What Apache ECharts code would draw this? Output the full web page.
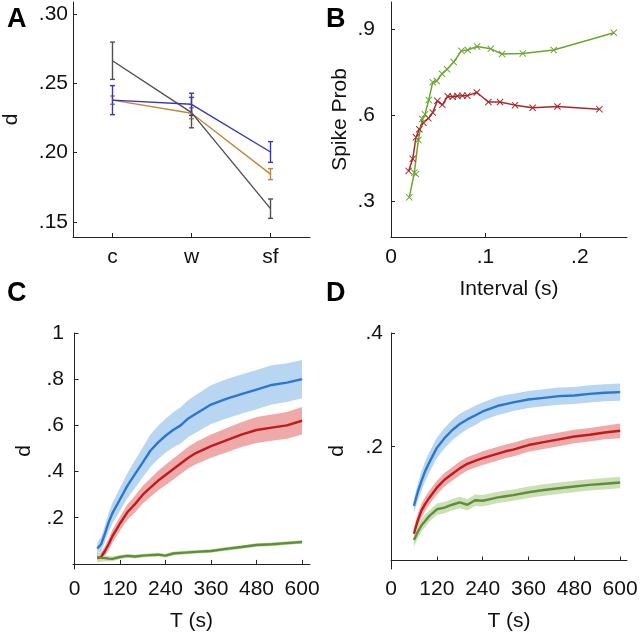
<!DOCTYPE html>
<html>
<head>
<meta charset="utf-8">
<title>Spike probability and d</title>
<script src="https://cdn.jsdelivr.net/npm/echarts@6/dist/echarts.min.js"></script>
<style>
  html, body { margin: 0; padding: 0; background: #fff; }
  #chart { width: 640px; height: 634px; }
</style>
</head>
<body>
<div id="chart"></div>
<script>
// ---- panel A: d per condition (mean +- error)
const catsA = ['c', 'w', 'sf'];
const grayMeanA = [0.2665, 0.229, 0.1595];
const grayErrA = [0.0135, 0.011, 0.007];
const blueMeanA = [0.238, 0.235, 0.2005];
const blueErrA = [0.0105, 0.008, 0.0075];
const orangeMeanA = [0.238, 0.2285, 0.1845];
const orangeErrA = [0.003, 0.004, 0.004];

// ---- panel B: spike probability vs interval
const intervalGreen = [0.0194, 0.0247, 0.0265, 0.029, 0.0332, 0.036, 0.040, 0.0442, 0.0484, 0.054, 0.0594, 0.0664, 0.0746, 0.0813, 0.0912, 0.1057, 0.1177, 0.1396, 0.1724, 0.236];
const probGreen = [0.315, 0.401, 0.396, 0.515, 0.588, 0.604, 0.654, 0.716, 0.72, 0.745, 0.761, 0.786, 0.825, 0.828, 0.84, 0.832, 0.814, 0.816, 0.828, 0.888];
const intervalRed = [0.0187, 0.023, 0.0265, 0.030, 0.0343, 0.0396, 0.0442, 0.0491, 0.0544, 0.0601, 0.0654, 0.0703, 0.0756, 0.0809, 0.0909, 0.1032, 0.1155, 0.1314, 0.150, 0.1763, 0.2208];
const probRed = [0.407, 0.449, 0.524, 0.552, 0.575, 0.590, 0.610, 0.651, 0.637, 0.667, 0.665, 0.668, 0.669, 0.669, 0.680, 0.647, 0.647, 0.636, 0.627, 0.631, 0.622];

// ---- panels C and D: d vs T (mean and band half-width)
const tAxis = [60, 70, 80, 90, 100, 120, 140, 160, 180, 200, 220, 240, 260, 280, 300, 320, 360, 400, 440, 480, 520, 560, 600];

const cBlueMean = [0.067, 0.085, 0.13, 0.18, 0.22, 0.28, 0.34, 0.39, 0.44, 0.49, 0.525, 0.555, 0.58, 0.60, 0.63, 0.65, 0.69, 0.715, 0.735, 0.755, 0.775, 0.785, 0.80];
const cBlueErr = [0.025, 0.03, 0.035, 0.04, 0.045, 0.05, 0.055, 0.06, 0.065, 0.07, 0.072, 0.074, 0.076, 0.078, 0.08, 0.082, 0.084, 0.085, 0.085, 0.085, 0.085, 0.084, 0.083];
const cRedMean = [0.025, 0.03, 0.055, 0.085, 0.12, 0.175, 0.225, 0.26, 0.30, 0.33, 0.36, 0.385, 0.41, 0.435, 0.46, 0.48, 0.51, 0.535, 0.56, 0.58, 0.59, 0.60, 0.62];
const cRedErr = [0.015, 0.02, 0.022, 0.025, 0.028, 0.03, 0.033, 0.036, 0.038, 0.04, 0.042, 0.044, 0.045, 0.046, 0.047, 0.048, 0.05, 0.052, 0.054, 0.056, 0.057, 0.058, 0.06];
const cGreenMean = [0.03, 0.027, 0.025, 0.023, 0.022, 0.03, 0.035, 0.032, 0.036, 0.038, 0.04, 0.036, 0.045, 0.048, 0.05, 0.052, 0.056, 0.065, 0.073, 0.082, 0.085, 0.09, 0.095];
const cGreenErr = [0.02, 0.016, 0.013, 0.011, 0.01, 0.009, 0.008, 0.008, 0.008, 0.008, 0.008, 0.008, 0.008, 0.008, 0.008, 0.008, 0.008, 0.008, 0.008, 0.008, 0.008, 0.008, 0.008];

const dBlueMean = [0.096, 0.12, 0.14, 0.158, 0.172, 0.198, 0.215, 0.229, 0.24, 0.248, 0.255, 0.262, 0.267, 0.272, 0.275, 0.278, 0.283, 0.286, 0.289, 0.29, 0.293, 0.295, 0.296];
const dBlueErr = [0.012, 0.015, 0.017, 0.018, 0.018, 0.018, 0.018, 0.018, 0.018, 0.017, 0.017, 0.016, 0.016, 0.016, 0.016, 0.015, 0.015, 0.015, 0.015, 0.015, 0.015, 0.015, 0.015];
const dRedMean = [0.047, 0.07, 0.088, 0.10, 0.11, 0.128, 0.142, 0.152, 0.162, 0.17, 0.175, 0.18, 0.184, 0.188, 0.192, 0.195, 0.203, 0.208, 0.213, 0.218, 0.221, 0.225, 0.228];
const dRedErr = [0.01, 0.012, 0.012, 0.012, 0.012, 0.012, 0.012, 0.012, 0.012, 0.012, 0.012, 0.012, 0.012, 0.012, 0.012, 0.012, 0.012, 0.012, 0.012, 0.012, 0.012, 0.012, 0.013];
const dGreenMean = [0.036, 0.05, 0.062, 0.07, 0.078, 0.09, 0.093, 0.098, 0.102, 0.098, 0.106, 0.105, 0.108, 0.111, 0.113, 0.115, 0.12, 0.124, 0.127, 0.13, 0.133, 0.135, 0.137];
const dGreenErr = [0.012, 0.012, 0.011, 0.011, 0.01, 0.01, 0.01, 0.01, 0.01, 0.01, 0.01, 0.01, 0.01, 0.01, 0.01, 0.01, 0.01, 0.01, 0.01, 0.01, 0.01, 0.01, 0.01];

// tick labels
const ticksAy = [0.15, 0.20, 0.25, 0.30];
const ticksBx = [0, 0.1, 0.2];
const ticksBy = [0.3, 0.6, 0.9];
const ticksT = [0, 120, 240, 360, 480, 600];
const ticksCy = [0.2, 0.4, 0.6, 0.8, 1];
const ticksDy = [0.2, 0.4];

const FONT = 'Liberation Sans, Arial, sans-serif';
const FS = 21;
const AXIS_COLOR = '#222';

// '.3' style labels, like the original figure
const dotLabel = v => String(Math.round(v * 1000) / 1000).replace(/^0\./, '.');

function axisBase(extra) {
  return Object.assign({
    axisLine: { show: true, lineStyle: { color: AXIS_COLOR, width: 1 } },
    splitLine: { show: false },
    nameTextStyle: { fontFamily: FONT, fontSize: FS, color: '#111' },
    nameLocation: 'middle'
  }, extra);
}

function valueAxis(gridIndex, min, max, ticks, formatter, margin, extra) {
  return axisBase(Object.assign({
    type: 'value',
    gridIndex: gridIndex,
    min: min,
    max: max,
    axisTick: { show: true, inside: true, length: 4, customValues: ticks, lineStyle: { color: AXIS_COLOR } },
    axisLabel: { customValues: ticks, formatter: formatter, fontFamily: FONT, fontSize: FS, color: '#111', margin: margin, showMinLabel: true, showMaxLabel: true }
  }, extra));
}

// error bars with small caps, drawn through the axis scales
function errorBars(color) {
  return function (params, api) {
    const x = api.value(0);
    const lo = api.coord([x, api.value(1)]);
    const hi = api.coord([x, api.value(2)]);
    const cap = 2.5;
    const style = { stroke: color, lineWidth: 1.4 };
    return {
      type: 'group',
      children: [
        { type: 'line', shape: { x1: lo[0], y1: lo[1], x2: hi[0], y2: hi[1] }, style: style },
        { type: 'line', shape: { x1: lo[0] - cap, y1: lo[1], x2: lo[0] + cap, y2: lo[1] }, style: style },
        { type: 'line', shape: { x1: hi[0] - cap, y1: hi[1], x2: hi[0] + cap, y2: hi[1] }, style: style }
      ]
    };
  };
}

function panelALine(mean, err, color) {
  return [
    {
      type: 'line', xAxisIndex: 0, yAxisIndex: 0,
      data: mean, symbol: 'none',
      lineStyle: { color: color, width: 1.4 }
    },
    {
      type: 'custom', xAxisIndex: 0, yAxisIndex: 0,
      renderItem: errorBars(color),
      encode: { x: 0, y: [1, 2] },
      data: mean.map((m, i) => [i, m - err[i], m + err[i]])
    }
  ];
}

const crossSymbol = 'path://M0,1L1,0L5,4L9,0L10,1L6,5L10,9L9,10L5,6L1,10L0,9L4,5Z';

function panelBLine(xs, ys, color) {
  return {
    type: 'line', xAxisIndex: 1, yAxisIndex: 1,
    data: xs.map((x, i) => [x, ys[i]]),
    symbol: crossSymbol, symbolSize: 7,
    itemStyle: { color: color },
    lineStyle: { color: color, width: 1.5 }
  };
}

// shaded band: one polygon through (t, mean-err) and back along (t, mean+err)
function band(axis, mean, err, color) {
  const data = tAxis.map((t, i) => [t, mean[i] - err[i], mean[i] + err[i]]);
  return {
    type: 'custom', xAxisIndex: axis, yAxisIndex: axis, silent: true,
    encode: { x: 0, y: [1, 2] },
    data: data,
    renderItem: function (params, api) {
      if (params.dataIndex !== 0) return null;
      const lower = data.map(d => api.coord([d[0], d[1]]));
      const upper = data.map(d => api.coord([d[0], d[2]])).reverse();
      return {
        type: 'polygon',
        shape: { points: lower.concat(upper) },
        style: { fill: color, stroke: 'none' }
      };
    }
  };
}

function meanLine(axis, mean, color) {
  return {
    type: 'line', xAxisIndex: axis, yAxisIndex: axis, symbol: 'none',
    lineStyle: { color: color, width: 2.4 },
    data: tAxis.map((t, i) => [t, mean[i]])
  };
}

const BLUE = '#2a78cc', BLUE_BAND = '#b8d5f1';
const RED = '#c01a1e', RED_BAND = '#eeaaa9';
const GREEN = '#5f8f34', GREEN_BAND = '#cddfb8';

const chart = echarts.init(document.getElementById('chart'), null, { renderer: 'canvas' });

const option = {
  animation: false,
  backgroundColor: '#fff',
  textStyle: { fontFamily: FONT },
  grid: [
    { left: 73, top: 2, width: 237, height: 235, outerBoundsMode: 'none' },
    { left: 391, top: 2, width: 236, height: 235, outerBoundsMode: 'none' },
    { left: 73, top: 333, width: 237, height: 236, outerBoundsMode: 'none' },
    { left: 391, top: 333, width: 236, height: 236, outerBoundsMode: 'none' }
  ],
  xAxis: [
    axisBase({
      type: 'category', gridIndex: 0, data: catsA, boundaryGap: true,
      axisTick: { show: true, inside: true, length: 4, alignWithLabel: true, lineStyle: { color: AXIS_COLOR } },
      axisLabel: { fontFamily: FONT, fontSize: FS, color: '#111', margin: 10 }
    }),
    valueAxis(1, 0, 0.25, ticksBx, dotLabel, 10, { name: 'Interval (s)', nameGap: 42 }),
    valueAxis(2, -4, 621, ticksT, v => String(v), 10, { name: 'T (s)', nameGap: 42 }),
    valueAxis(3, 0, 618, ticksT, v => String(v), 10, { name: 'T (s)', nameGap: 42 })
  ],
  yAxis: [
    valueAxis(0, 0.139, 0.309, ticksAy, v => v.toFixed(2).replace(/^0\./, '.'), 5, { name: 'd', nameGap: 51 }),
    valueAxis(1, 0.177, 0.995, ticksBy, dotLabel, 16, { name: 'Spike Prob', nameGap: 40 }),
    valueAxis(2, -0.022, 1.0, ticksCy, dotLabel, 9, { name: 'd', nameGap: 38 }),
    valueAxis(3, -0.015, 0.4, ticksDy, dotLabel, 8, { name: 'd', nameGap: 43 })
  ],
  graphic: [
    { type: 'text', left: 7, top: 6, style: { text: 'A', font: 'bold 27px ' + FONT, fill: '#000' } },
    { type: 'text', left: 326, top: 6, style: { text: 'B', font: 'bold 27px ' + FONT, fill: '#000' } },
    { type: 'text', left: 7, top: 280, style: { text: 'C', font: 'bold 27px ' + FONT, fill: '#000' } },
    { type: 'text', left: 326, top: 280, style: { text: 'D', font: 'bold 27px ' + FONT, fill: '#000' } }
  ],
  series: [
    ...panelALine(orangeMeanA, orangeErrA, '#c4843c'),
    ...panelALine(grayMeanA, grayErrA, '#505050'),
    ...panelALine(blueMeanA, blueErrA, '#3a36ae'),

    panelBLine(intervalRed, probRed, '#a8262c'),
    panelBLine(intervalGreen, probGreen, '#6ea531'),

    band(2, cBlueMean, cBlueErr, BLUE_BAND),
    band(2, cRedMean, cRedErr, RED_BAND),
    band(2, cGreenMean, cGreenErr, GREEN_BAND),
    meanLine(2, cBlueMean, BLUE),
    meanLine(2, cRedMean, RED),
    meanLine(2, cGreenMean, GREEN),

    band(3, dBlueMean, dBlueErr, BLUE_BAND),
    band(3, dRedMean, dRedErr, RED_BAND),
    band(3, dGreenMean, dGreenErr, GREEN_BAND),
    meanLine(3, dBlueMean, BLUE),
    meanLine(3, dRedMean, RED),
    meanLine(3, dGreenMean, GREEN)
  ]
};

chart.setOption(option);
</script>
</body>
</html>
